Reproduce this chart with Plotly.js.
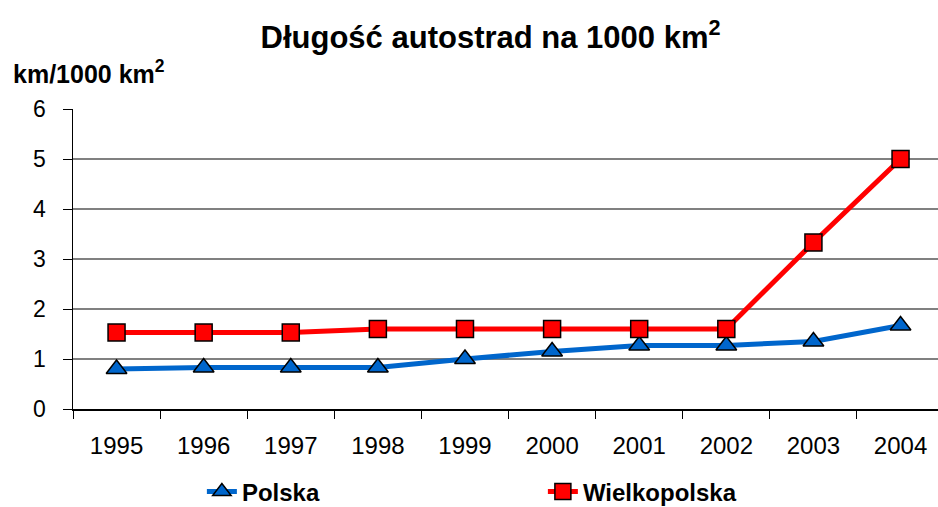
<!DOCTYPE html>
<html>
<head>
<meta charset="utf-8">
<script src="https://cdn.plot.ly/plotly-3.0.1.min.js"></script>
<style>
  html, body { margin: 0; padding: 0; background: #fff; }
  #myDiv { width: 938px; height: 507px; }
</style>
</head>
<body>
<div id="myDiv"></div>
<script>
var years = ['1995', '1996', '1997', '1998', '1999', '2000', '2001', '2002', '2003', '2004'];
var polska = [0.80, 0.83, 0.83, 0.83, 1.00, 1.15, 1.27, 1.27, 1.35, 1.67];
var wielkopolska = [1.53, 1.53, 1.53, 1.60, 1.60, 1.60, 1.60, 1.60, 3.33, 5.00];
var yTicks = [0, 1, 2, 3, 4, 5, 6];

var trace1 = {
    x: years,
    y: polska,
    mode: 'lines+markers',
    line: { color: '#0066CC', width: 5 },
    marker: {
        symbol: 'triangle-up',
        size: 18,
        color: '#0066CC',
        line: { color: 'black', width: 1.5 }
    },
    name: 'Polska'
};

var trace2 = {
    x: years,
    y: wielkopolska,
    mode: 'lines+markers',
    line: { color: '#FF0000', width: 5 },
    marker: {
        symbol: 'square',
        size: 17,
        color: '#FF0000',
        line: { color: 'black', width: 1.5 }
    },
    name: 'Wielkopolska'
};

var data = [trace1, trace2];

var layout = {
    width: 938,
    height: 507,
    margin: { l: 73, r: 0, t: 109, b: 98 },
    paper_bgcolor: 'white',
    plot_bgcolor: 'white',
    font: { family: 'Liberation Sans, Arial, sans-serif', size: 18, color: 'black' },
    title: {
        text: '<b>Długość autostrad na 1000 km<sup>2</sup></b>',
        font: { family: 'Liberation Sans, Arial, sans-serif', size: 31, color: 'black' },
        x: 0.523,
        xanchor: 'center',
        y: 1 - 37 / 507,
        yanchor: 'middle'
    },
    xaxis: {
        type: 'category',
        range: [-0.5, 9.43],
        automargin: false,
        showgrid: false,
        showline: true,
        linecolor: 'black',
        linewidth: 1.5,
        ticks: 'outside',
        tickson: 'boundaries',
        ticklen: 8,
        tickcolor: 'black',
        tickwidth: 1,
        tickfont: { size: 24, color: 'black' },
        ticklabelstandoff: 15,
        zeroline: false
    },
    yaxis: {
        range: [0, 6],
        tickvals: yTicks,
        automargin: false,
        showgrid: true,
        gridcolor: '#808080',
        gridwidth: 1.5,
        showline: true,
        linecolor: 'black',
        linewidth: 1.5,
        ticks: 'outside',
        ticklen: 9,
        tickcolor: 'black',
        tickfont: { size: 23, color: 'black' },
        ticklabelstandoff: 12,
        zeroline: false
    },
    showlegend: true,
    legend: {
        orientation: 'h',
        x: 0.149,
        xanchor: 'left',
        yref: 'container',
        y: 1 - 492 / 507,
        yanchor: 'middle',
        font: { size: 24, color: 'black', weight: 'bold' },
        entrywidth: 296,
        bgcolor: 'rgba(0,0,0,0)'
    },
    annotations: [{
        text: '<b>km/1000 km<sup>2</sup></b>',
        xref: 'paper',
        yref: 'paper',
        x: -0.072,
        xanchor: 'left',
        y: 1.122,
        yanchor: 'middle',
        showarrow: false,
        font: { size: 25, color: 'black' }
    }]
};

Plotly.newPlot('myDiv', data, layout, { staticPlot: true });
</script>
</body>
</html>
